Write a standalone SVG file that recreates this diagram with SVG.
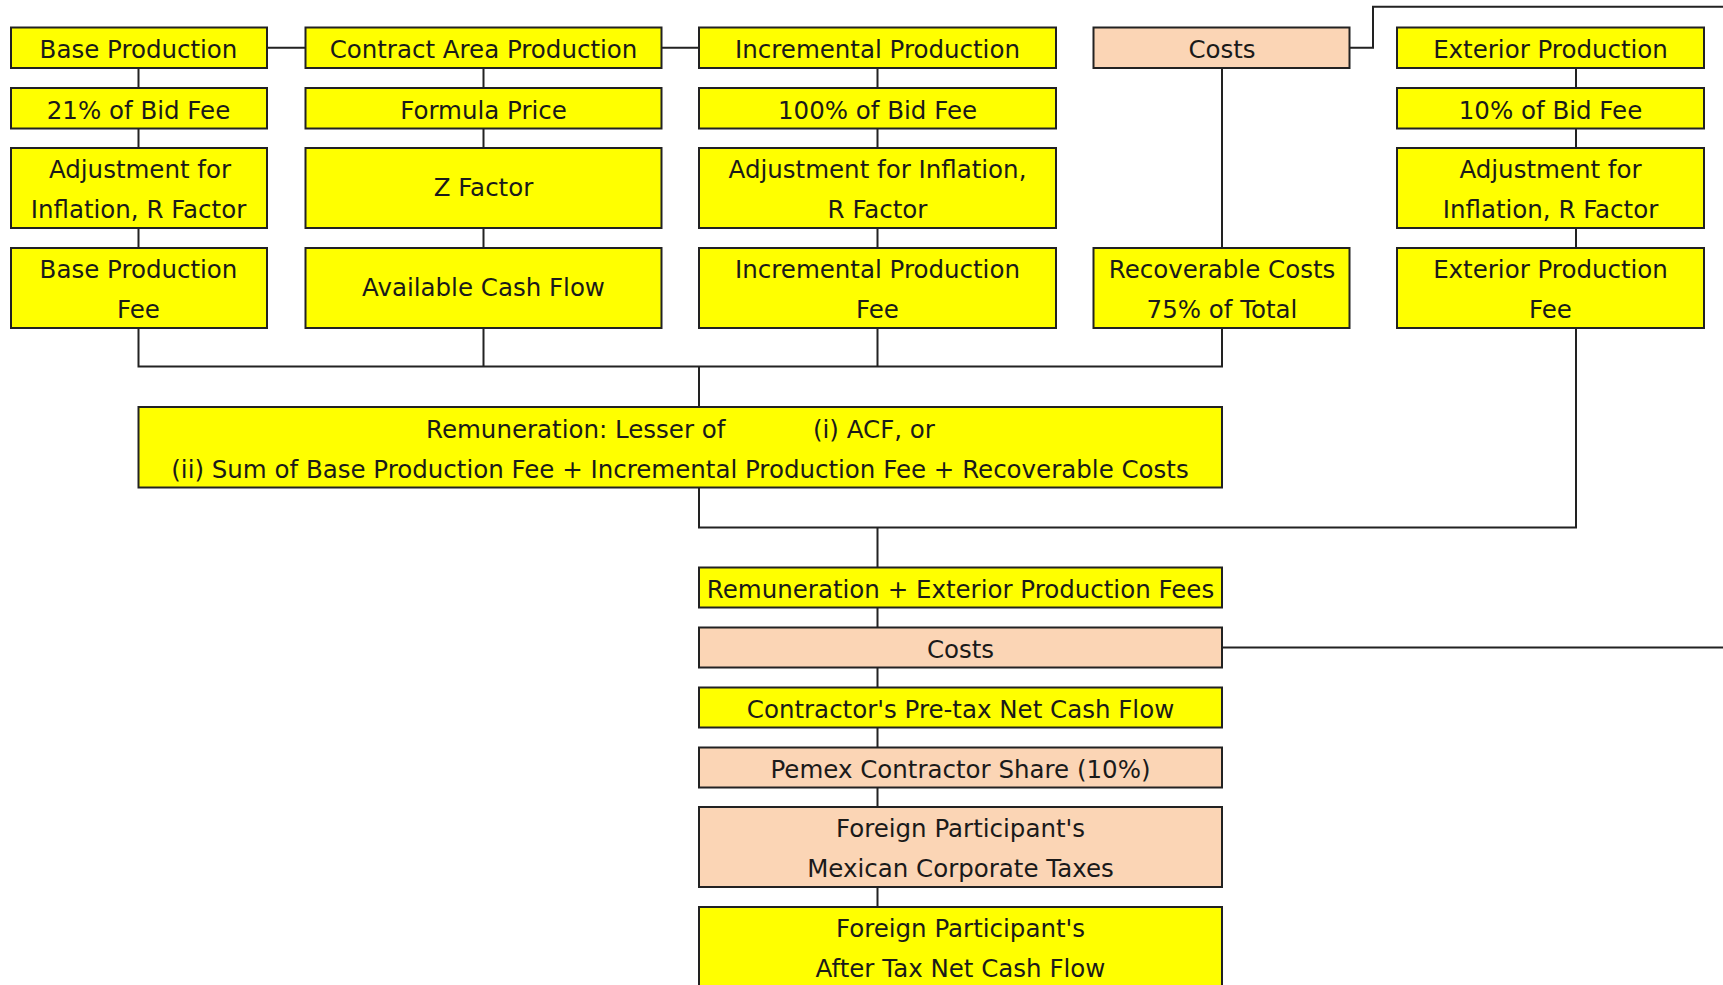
<svg xmlns="http://www.w3.org/2000/svg" width="1723" height="985" viewBox="0 0 1723 985">
<style>
.y{fill:#FFFF00;stroke:#222;stroke-width:2}
.p{fill:#FBD5B5;stroke:#222;stroke-width:2}
.c{fill:none;stroke:#222;stroke-width:2}
text{font-family:"DejaVu Sans","Liberation Sans",Arial,sans-serif;font-size:24.5px;fill:#1a1a1a;text-anchor:middle}
</style>
<rect width="1723" height="985" fill="#fff"/>
<g id="connectors" class="c">
<path d="M267 47.7H305.5M661.5 47.7H699"/>
<path d="M1349.5 47.7H1373V6.7H1723"/>
<path d="M138.5 68V88M138.5 128.5V148M138.5 228V248"/>
<path d="M483.5 68V88M483.5 128.5V148M483.5 228V248"/>
<path d="M877.5 68V88M877.5 128.5V148M877.5 228V248"/>
<path d="M1576 68V88M1576 128.5V148M1576 228V248"/>
<path d="M1222 68V248"/>
<path d="M138.5 328V366.5H1222V328M483.5 328V366.5M877.5 328V366.5M699 366.5V407"/>
<path d="M699 487.5V527.5H1576V328M877.5 527.5V567.5"/>
<path d="M877.5 607.5V627.5M877.5 667.5V687.5M877.5 727.5V747.5M877.5 787.5V807M877.5 887V907"/>
<path d="M1222 647.5H1723"/>
</g>
<g id="base-production"><rect class="y" x="11" y="27.5" width="256" height="40.5"/><text x="138.5" y="58">Base Production</text></g>
<g id="contract-area-production"><rect class="y" x="305.5" y="27.5" width="356" height="40.5"/><text x="483.5" y="58">Contract Area Production</text></g>
<g id="incremental-production"><rect class="y" x="699" y="27.5" width="357" height="40.5"/><text x="877.5" y="58">Incremental Production</text></g>
<g id="costs-top"><rect class="p" x="1093.5" y="27.5" width="256" height="40.5"/><text x="1222" y="58">Costs</text></g>
<g id="exterior-production"><rect class="y" x="1397" y="27.5" width="307" height="40.5"/><text x="1550.5" y="58">Exterior Production</text></g>

<g id="bid-fee-21"><rect class="y" x="11" y="88" width="256" height="40.5"/><text x="138.5" y="118.5">21% of Bid Fee</text></g>
<g id="formula-price"><rect class="y" x="305.5" y="88" width="356" height="40.5"/><text x="483.5" y="118.5">Formula Price</text></g>
<g id="bid-fee-100"><rect class="y" x="699" y="88" width="357" height="40.5"/><text x="877.5" y="118.5">100% of Bid Fee</text></g>
<g id="bid-fee-10"><rect class="y" x="1397" y="88" width="307" height="40.5"/><text x="1550.5" y="118.5">10% of Bid Fee</text></g>

<g id="adjust-base"><rect class="y" x="11" y="148" width="256" height="80"/><text x="140" y="178">Adjustment for</text><text x="138.5" y="218">Inflation, R Factor</text></g>
<g id="z-factor"><rect class="y" x="305.5" y="148" width="356" height="80"/><text x="483.5" y="196">Z Factor</text></g>
<g id="adjust-incremental"><rect class="y" x="699" y="148" width="357" height="80"/><text x="877.5" y="178">Adjustment for Inflation,</text><text x="877.5" y="218">R Factor</text></g>
<g id="adjust-exterior"><rect class="y" x="1397" y="148" width="307" height="80"/><text x="1550.5" y="178">Adjustment for</text><text x="1550.5" y="218">Inflation, R Factor</text></g>

<g id="base-production-fee"><rect class="y" x="11" y="248" width="256" height="80"/><text x="138.5" y="278">Base Production</text><text x="138.5" y="318">Fee</text></g>
<g id="available-cash-flow"><rect class="y" x="305.5" y="248" width="356" height="80"/><text x="483.5" y="296">Available Cash Flow</text></g>
<g id="incremental-production-fee"><rect class="y" x="699" y="248" width="357" height="80"/><text x="877.5" y="278">Incremental Production</text><text x="877.5" y="318">Fee</text></g>
<g id="recoverable-costs"><rect class="y" x="1093.5" y="248" width="256" height="80"/><text x="1222" y="278">Recoverable Costs</text><text x="1222" y="318">75% of Total</text></g>
<g id="exterior-production-fee"><rect class="y" x="1397" y="248" width="307" height="80"/><text x="1550.5" y="278">Exterior Production</text><text x="1550.5" y="318">Fee</text></g>

<g id="remuneration"><rect class="y" x="138.5" y="407" width="1083.5" height="80.5"/><text style="text-anchor:start" y="438"><tspan x="426">Remuneration: Lesser of</tspan><tspan x="813">(i) ACF, or</tspan></text><text x="680" y="478">(ii) Sum of Base Production Fee + Incremental Production Fee + Recoverable Costs</text></g>

<g id="remuneration-exterior"><rect class="y" x="699" y="567.5" width="523" height="40"/><text x="960.5" y="598">Remuneration + Exterior Production Fees</text></g>
<g id="costs-bottom"><rect class="p" x="699" y="627.5" width="523" height="40"/><text x="960.5" y="658">Costs</text></g>
<g id="pretax-ncf"><rect class="y" x="699" y="687.5" width="523" height="40"/><text x="960.5" y="718">Contractor's Pre-tax Net Cash Flow</text></g>
<g id="pemex-share"><rect class="p" x="699" y="747.5" width="523" height="40"/><text x="960.5" y="778">Pemex Contractor Share (10%)</text></g>
<g id="mexican-taxes"><rect class="p" x="699" y="807" width="523" height="80"/><text x="960.5" y="837">Foreign Participant's</text><text x="960.5" y="877">Mexican Corporate Taxes</text></g>
<g id="after-tax-ncf"><rect class="y" x="699" y="907" width="523" height="82"/><text x="960.5" y="937">Foreign Participant's</text><text x="960.5" y="977">After Tax Net Cash Flow</text></g>
</svg>
